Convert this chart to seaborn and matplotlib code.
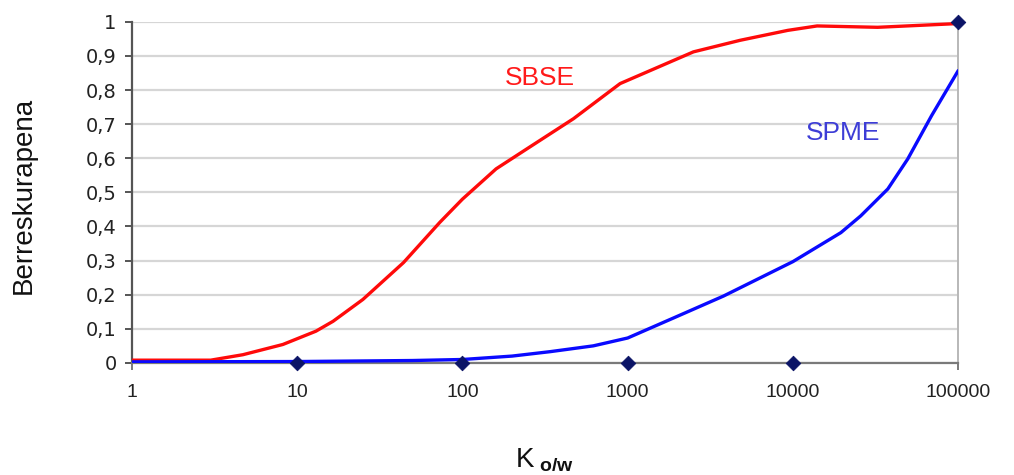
import matplotlib
matplotlib.use("Agg")
import matplotlib.pyplot as plt
import seaborn as sns
import pandas as pd

# Recovery vs. octanol/water partition coefficient
sbse_kow = [1, 3, 4.7, 8.2, 13, 16.5, 25, 44, 73, 100, 160, 250, 470, 900,
            2500, 4800, 9300, 14000, 32500, 100000]
sbse_rec = [0.008, 0.008, 0.024, 0.054, 0.093, 0.122, 0.186, 0.294, 0.412,
            0.48, 0.569, 0.63, 0.716, 0.819, 0.912, 0.946, 0.975, 0.988,
            0.984, 0.995]

spme_kow = [1, 10, 50, 100, 200, 340, 620, 1000, 1900, 3800, 10000, 19500,
            25700, 37500, 49500, 69000, 100000]
spme_rec = [0.003, 0.004, 0.007, 0.01, 0.02, 0.033, 0.05, 0.073, 0.132,
            0.196, 0.297, 0.382, 0.431, 0.51, 0.598, 0.725, 0.857]

ref_kow = [10, 100, 1000, 10000, 100000]
ref_rec = [0, 0, 0, 0, 1]

x_ticks = [1, 10, 100, 1000, 10000, 100000]
x_labels = ["1", "10", "100", "1000", "10000", "100000"]
y_ticks = [0, 0.1, 0.2, 0.3, 0.4, 0.5, 0.6, 0.7, 0.8, 0.9, 1]
y_labels = ["0", "0,1", "0,2", "0,3", "0,4", "0,5", "0,6", "0,7", "0,8", "0,9", "1"]

sns.set_theme(style="white")
plt.rcParams["font.family"] = ["Liberation Sans", "DejaVu Sans"]
plt.rcParams["mathtext.fontset"] = "custom"
plt.rcParams["mathtext.rm"] = "Liberation Sans"
plt.rcParams["mathtext.bf"] = "Liberation Sans:bold"
plt.rcParams["mathtext.it"] = "Liberation Sans"

fig = plt.figure(figsize=(10.14, 4.75), dpi=100)
ax = fig.add_axes([0.130, 0.236, 0.815, 0.718])

sbse = pd.DataFrame({"kow": sbse_kow, "rec": sbse_rec})
spme = pd.DataFrame({"kow": spme_kow, "rec": spme_rec})
ref = pd.DataFrame({"kow": ref_kow, "rec": ref_rec})

sns.lineplot(data=sbse, x="kow", y="rec", ax=ax, color="#ff0a0a", lw=2.4, zorder=3)
sns.lineplot(data=spme, x="kow", y="rec", ax=ax, color="#0a0aff", lw=2.4, zorder=3)
sns.scatterplot(data=ref, x="kow", y="rec", ax=ax, marker="D", s=55,
                color="#0b1466", edgecolor="#0b1466", zorder=4, clip_on=False)

ax.set_xscale("log")
ax.set_xlim(1, 100000)
ax.set_ylim(0, 1)
ax.set_xticks(x_ticks)
ax.set_xticklabels(x_labels, fontsize=14, color="#222222")
ax.minorticks_off()
ax.set_yticks(y_ticks)
ax.set_yticklabels(y_labels, fontsize=14, color="#222222", family="DejaVu Sans")

ax.grid(axis="y", color="#d6d6d6", lw=1.6)
ax.set_axisbelow(True)

ax.spines["top"].set_visible(False)
ax.spines["left"].set_color("#555555")
ax.spines["left"].set_linewidth(1.6)
ax.spines["bottom"].set_color("#7a7a7a")
ax.spines["bottom"].set_linewidth(1.6)
ax.spines["right"].set_color("#b8b8b8")
ax.spines["right"].set_linewidth(1.4)

ax.tick_params(axis="y", which="major", direction="out", length=5, width=1.4,
               color="#555555", left=True, pad=6)
ax.tick_params(axis="x", which="major", direction="out", length=5, width=1.4,
               color="#7a7a7a", bottom=True, pad=10)

ax.set_ylabel("Berreskurapena", fontsize=20, color="#111111")
ax.yaxis.set_label_coords(-0.115, 0.49)
ax.set_xlabel(r"K$_{\ \mathbf{o/w}}$", fontsize=20, color="#111111")
ax.xaxis.set_label_coords(0.499, -0.245)

fig.text(540 / 1014, 1 - 78 / 475, "SBSE", color="#ff1a1a", fontsize=19,
         ha="center", va="center")
fig.text(843 / 1014, 1 - 133 / 475, "SPME", color="#3d3dd6", fontsize=19,
         ha="center", va="center")

fig.savefig("out.png", dpi=100)
